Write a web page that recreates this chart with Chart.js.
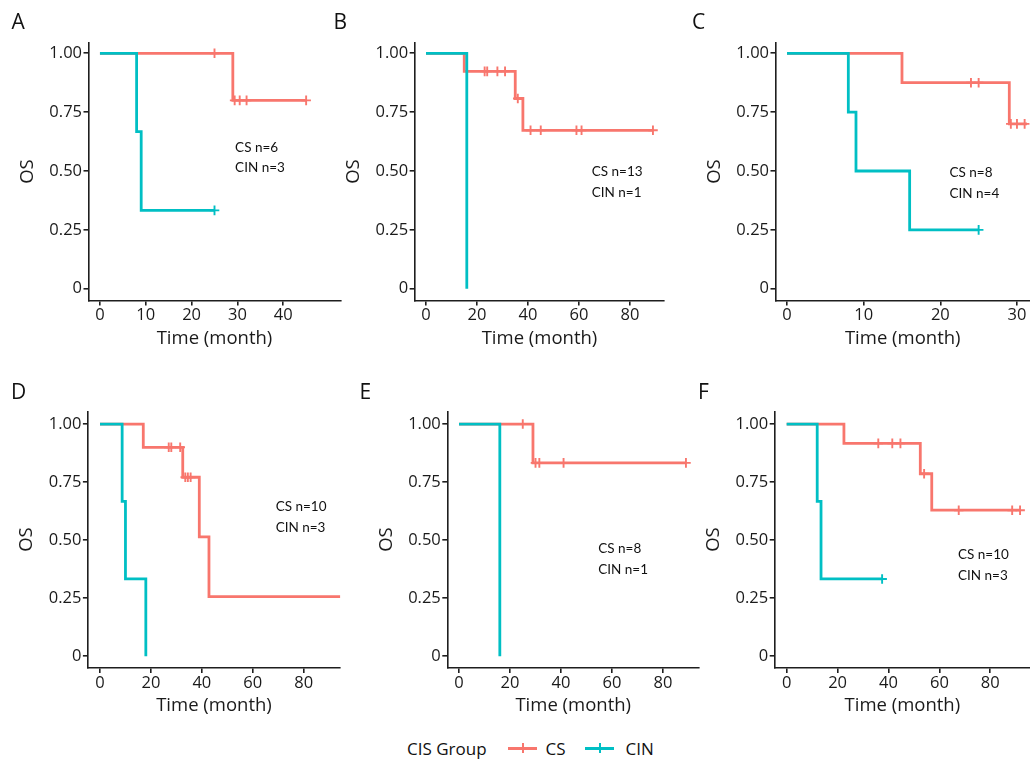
<!DOCTYPE html>
<html><head><meta charset="utf-8">
<script src="https://cdn.jsdelivr.net/npm/chart.js@4.4.0/dist/chart.umd.min.js"></script>
<style>
html,body{margin:0;padding:0;background:#fff;overflow:hidden;width:1030px;height:760px;}
#wrap{position:relative;width:1030px;height:760px;overflow:hidden;background:#fff;}
canvas{position:absolute;}
.letter{position:absolute;font-family:'Open Sans';font-size:21px;line-height:21px;color:#111;}
.leg{position:absolute;font-family:'Open Sans';font-size:17px;line-height:20px;color:#111;white-space:nowrap;}
.mk{position:absolute;}
</style></head><body><div id="wrap"></div>
<script>
const CS_COLOR = '#F8766D', CIN_COLOR = '#00BFC4';
const GROUPS = ['CS', 'CIN'];
const LEGEND_TITLE = 'CIS Group';
const Y_TICKS = [0, 0.25, 0.5, 0.75, 1];
const Y_TICK_LABELS = ['0', '0.25', '0.50', '0.75', '1.00'];
const X_TICKS_A = [0, 10, 20, 30, 40];
const X_TICKS_C = [0, 10, 20, 30];
const X_TICKS_90 = [0, 20, 40, 60, 80];

// Panel A
const A_CS_TIME = [0, 29, 45];
const A_CS_SURV = [1, 0.8, 0.8];
const A_CS_CENS_TIME = [25, 29.4, 30.5, 32, 45];
const A_CS_CENS_SURV = [1, 0.8, 0.8, 0.8, 0.8];
const A_CIN_TIME = [0, 8, 9, 25];
const A_CIN_SURV = [1, 0.667, 0.333, 0.333];
const A_CIN_CENS_TIME = [25];
const A_CIN_CENS_SURV = [0.333];
// Panel B
const B_CS_TIME = [0, 15, 35, 38, 89];
const B_CS_SURV = [1, 0.923, 0.808, 0.673, 0.673];
const B_CS_CENS_TIME = [23, 24, 28, 31, 36, 41, 45, 59, 61, 89];
const B_CS_CENS_SURV = [0.923, 0.923, 0.923, 0.923, 0.808, 0.673, 0.673, 0.673, 0.673, 0.673];
const B_CIN_TIME = [0, 16];
const B_CIN_SURV = [1, 0];
const B_CIN_CENS_TIME = [];
const B_CIN_CENS_SURV = [];
// Panel C
const C_CS_TIME = [0, 15, 29, 31.3];
const C_CS_SURV = [1, 0.875, 0.70, 0.70];
const C_CS_CENS_TIME = [24, 25, 29.2, 30, 31];
const C_CS_CENS_SURV = [0.875, 0.875, 0.70, 0.70, 0.70];
const C_CIN_TIME = [0, 8, 9, 16, 25];
const C_CIN_SURV = [1, 0.75, 0.5, 0.25, 0.25];
const C_CIN_CENS_TIME = [25];
const C_CIN_CENS_SURV = [0.25];
// Panel D
const D_CS_TIME = [0, 17, 32.5, 39, 42.8, 95];
const D_CS_SURV = [1, 0.9, 0.771, 0.514, 0.257, 0.257];
const D_CS_CENS_TIME = [27, 28, 31.5, 33.5, 34.5, 35.6];
const D_CS_CENS_SURV = [0.9, 0.9, 0.9, 0.771, 0.771, 0.771];
const D_CIN_TIME = [0, 8.7, 10, 18];
const D_CIN_SURV = [1, 0.667, 0.333, 0];
const D_CIN_CENS_TIME = [];
const D_CIN_CENS_SURV = [];
// Panel E
const E_CS_TIME = [0, 29, 89];
const E_CS_SURV = [1, 0.833, 0.833];
const E_CS_CENS_TIME = [25, 30, 31.5, 41, 89];
const E_CS_CENS_SURV = [1, 0.833, 0.833, 0.833, 0.833];
const E_CIN_TIME = [0, 16];
const E_CIN_SURV = [1, 0];
const E_CIN_CENS_TIME = [];
const E_CIN_CENS_SURV = [];
// Panel F
const F_CS_TIME = [0, 22.5, 52.5, 57, 92];
const F_CS_SURV = [1, 0.917, 0.786, 0.629, 0.629];
const F_CS_CENS_TIME = [36, 41.5, 44.7, 54, 67.6, 88.6, 91.7];
const F_CS_CENS_SURV = [0.917, 0.917, 0.917, 0.786, 0.629, 0.629, 0.629];
const F_CIN_TIME = [0, 12, 13.5, 37.5];
const F_CIN_SURV = [1, 0.667, 0.333, 0.333];
const F_CIN_CENS_TIME = [37.5];
const F_CIN_CENS_SURV = [0.333];

const NOTES = {
  A: ['CS n=6', 'CIN n=3'], B: ['CS n=13', 'CIN n=1'], C: ['CS n=8', 'CIN n=4'],
  D: ['CS n=10', 'CIN n=3'], E: ['CS n=8', 'CIN n=1'], F: ['CS n=10', 'CIN n=3']
};
const X_TITLE = 'Time (month)';
const Y_TITLE = 'OS';

// layout (page pixels) for each row / panel
const ROWS = [
  {T: 42.7, B: 300.5, yMin: -0.05, yMax: 1.045, letterTop: 11.4},
  {T: 411.3, B: 667.9, yMin: -0.05, yMax: 1.055, letterTop: 381.4}
];
const PANELS = [
  {key:'A', row:0, L:88.5, R:340.5, xMin:-2.5, xMax:52.5, xTicks:X_TICKS_A, letterX:11.5, noteAt:[29.5, 0.60],
   cs:[A_CS_TIME, A_CS_SURV, A_CS_CENS_TIME, A_CS_CENS_SURV], cin:[A_CIN_TIME, A_CIN_SURV, A_CIN_CENS_TIME, A_CIN_CENS_SURV]},
  {key:'B', row:0, L:414.65, R:664.3, xMin:-4.45, xMax:93.45, xTicks:X_TICKS_90, letterX:333.5, noteAt:[65, 0.497],
   cs:[B_CS_TIME, B_CS_SURV, B_CS_CENS_TIME, B_CS_CENS_SURV], cin:[B_CIN_TIME, B_CIN_SURV, B_CIN_CENS_TIME, B_CIN_CENS_SURV]},
  {key:'C', row:0, L:775.5, R:1030, xMin:-1.5, xMax:31.7, xTicks:X_TICKS_C, letterX:692, noteAt:[21.2, 0.493],
   cs:[C_CS_TIME, C_CS_SURV, C_CS_CENS_TIME, C_CS_CENS_SURV], cin:[C_CIN_TIME, C_CIN_SURV, C_CIN_CENS_TIME, C_CIN_CENS_SURV]},
  {key:'D', row:1, L:87.9, R:340.1, xMin:-4.75, xMax:94.3, xTicks:X_TICKS_90, letterX:11, noteAt:[69, 0.643],
   cs:[D_CS_TIME, D_CS_SURV, D_CS_CENS_TIME, D_CS_CENS_SURV], cin:[D_CIN_TIME, D_CIN_SURV, D_CIN_CENS_TIME, D_CIN_CENS_SURV]},
  {key:'E', row:1, L:447.3, R:699.2, xMin:-4.6, xMax:94.2, xTicks:X_TICKS_90, letterX:359.5, noteAt:[54.6, 0.462],
   cs:[E_CS_TIME, E_CS_SURV, E_CS_CENS_TIME, E_CS_CENS_SURV], cin:[E_CIN_TIME, E_CIN_SURV, E_CIN_CENS_TIME, E_CIN_CENS_SURV]},
  {key:'F', row:1, L:774.7, R:1030, xMin:-4.7, xMax:95.6, xTicks:X_TICKS_90, letterX:698, noteAt:[67.3, 0.438],
   cs:[F_CS_TIME, F_CS_SURV, F_CS_CENS_TIME, F_CS_CENS_SURV], cin:[F_CIN_TIME, F_CIN_SURV, F_CIN_CENS_TIME, F_CIN_CENS_SURV]}
];

const AXIS_COLOR = '#1e1e1e';
const TEXT_COLOR = '#1a1a1a';
const TITLE_SIZE = 18.5;
const TITLE_LH = TITLE_SIZE * 1.2;
const X_SCALE_H = 38 + TITLE_LH / 2;
const Y_TITLE_OFFSET = 60;

const pts = (t, s) => t.map((v, i) => ({x: v, y: s[i]}));

const notePlugin = {
  id: 'note',
  afterDatasetsDraw(chart, args, opts) {
    const {ctx} = chart; const x = chart.scales.x, y = chart.scales.y;
    ctx.save();
    ctx.font = '13.5px Lato';
    ctx.fillStyle = '#111';
    ctx.textBaseline = 'middle';
    ctx.textAlign = 'left';
    const px = x.getPixelForValue(opts.at[0]), py = y.getPixelForValue(opts.at[1]);
    opts.lines.forEach((t, i) => ctx.fillText(t, px, py + i * 20.6));
    ctx.restore();
  }
};

const wrap = document.getElementById('wrap');

PANELS.forEach(p => {
  const row = ROWS[p.row];
  const cLeft = Math.floor(p.L - Y_TITLE_OFFSET - TITLE_LH / 2);
  const cTop = Math.floor(row.T - 20);
  const cRight = Math.ceil(p.R + 10);
  const cBottom = Math.ceil(row.B + X_SCALE_H);
  const W = cRight - cLeft, H = cBottom - cTop;
  const cv = document.createElement('canvas');
  cv.width = W; cv.height = H;
  cv.style.left = cLeft + 'px'; cv.style.top = cTop + 'px';
  cv.style.width = W + 'px'; cv.style.height = H + 'px';
  wrap.appendChild(cv);

  const letter = document.createElement('div');
  letter.className = 'letter';
  letter.textContent = p.key;
  letter.style.left = p.letterX + 'px';
  letter.style.top = row.letterTop + 'px';
  wrap.appendChild(letter);

  const mk = (grp, color, order) => [
    {type:'line', label: grp, data: pts(grp === 'CS' ? p.cs[0] : p.cin[0], grp === 'CS' ? p.cs[1] : p.cin[1]),
     borderColor: color, backgroundColor: color, borderWidth: 2.8, stepped: true, pointRadius: 0, pointHoverRadius: 0,
     fill: false, tension: 0, order},
    {type:'scatter', label: grp + ' censored', data: pts(grp === 'CS' ? p.cs[2] : p.cin[2], grp === 'CS' ? p.cs[3] : p.cin[3]),
     borderColor: color, backgroundColor: color, pointStyle: 'cross', pointRadius: 4.8, pointHoverRadius: 4.8,
     pointBorderWidth: 1.9, borderWidth: 1.9, showLine: false, order}
  ];

  new Chart(cv, {
    data: {datasets: [...mk('CIN', CIN_COLOR, 0), ...mk('CS', CS_COLOR, 1)]},
    options: {
      responsive: false, animation: false, devicePixelRatio: 1,
      layout: {padding: {left: 0, top: row.T - cTop, right: cRight - p.R, bottom: cBottom - (row.B + X_SCALE_H)}},
      plugins: {legend: {display: false}, tooltip: {enabled: false}, note: {at: p.noteAt, lines: NOTES[p.key]}},
      events: [],
      scales: {
        x: {
          type: 'linear', position: 'bottom', min: p.xMin, max: p.xMax,
          afterBuildTicks: s => { s.ticks = p.xTicks.map(v => ({value: v})); },
          afterFit: s => { s.height = X_SCALE_H; },
          ticks: {autoSkip: false, maxRotation: 0, padding: 0, color: TEXT_COLOR,
                  font: {family: 'Open Sans', size: 16.5}, callback: v => String(v)},
          grid: {display: true, drawOnChartArea: false, drawTicks: true, tickLength: 5, color: AXIS_COLOR, lineWidth: 1.6},
          border: {display: true, color: AXIS_COLOR, width: 1.6},
          title: {display: true, text: X_TITLE, color: TEXT_COLOR, padding: 0, font: {family: 'Open Sans', size: TITLE_SIZE}}
        },
        y: {
          type: 'linear', position: 'left', min: row.yMin, max: row.yMax,
          afterBuildTicks: s => { s.ticks = Y_TICKS.map(v => ({value: v})); },
          afterFit: s => { s.width = p.L - cLeft; },
          ticks: {autoSkip: false, padding: 1.5, color: TEXT_COLOR, font: {family: 'Open Sans', size: 16.5},
                  callback: (v) => { const i = Y_TICKS.indexOf(v); return i >= 0 ? Y_TICK_LABELS[i] : ''; }},
          grid: {display: true, drawOnChartArea: false, drawTicks: true, tickLength: 5, color: AXIS_COLOR, lineWidth: 1.6},
          border: {display: true, color: AXIS_COLOR, width: 1.6},
          title: {display: true, text: Y_TITLE, color: TEXT_COLOR, padding: 0, font: {family: 'Open Sans', size: TITLE_SIZE}}
        }
      }
    },
    plugins: [notePlugin]
  });
});

// legend (HTML)
function addText(txt, left) {
  const d = document.createElement('div');
  d.className = 'leg'; d.textContent = txt;
  d.style.left = left + 'px'; d.style.top = '738.5px';
  wrap.appendChild(d);
}
function addMarker(left, color) {
  const ln = document.createElement('div');
  ln.className = 'mk';
  Object.assign(ln.style, {left: left + 'px', top: '747px', width: '29px', height: '2.8px', background: color});
  wrap.appendChild(ln);
  const tk = document.createElement('div');
  tk.className = 'mk';
  Object.assign(tk.style, {left: (left + 13.5) + 'px', top: '743px', width: '2px', height: '10px', background: color});
  wrap.appendChild(tk);
}
addText(LEGEND_TITLE, 407);
addMarker(508, CS_COLOR); addText(GROUPS[0], 545.5);
addMarker(585, CIN_COLOR); addText(GROUPS[1], 625.5);
</script>
</body></html>
